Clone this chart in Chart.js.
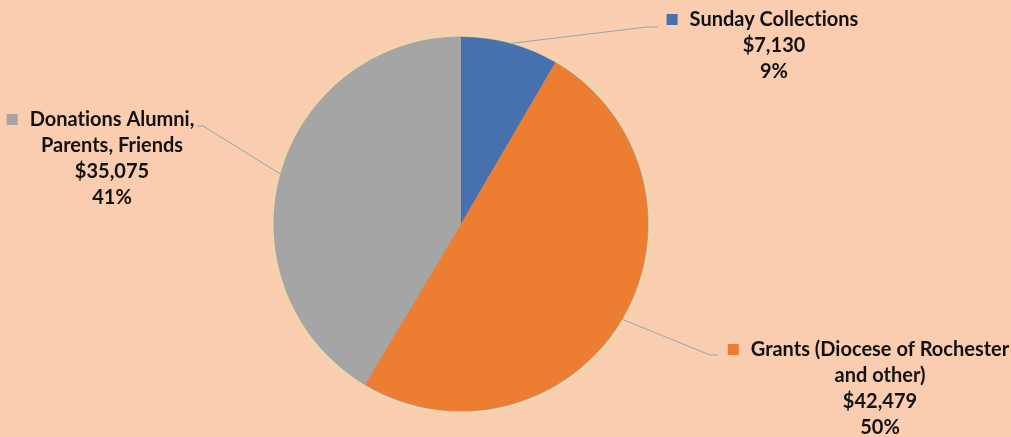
<!DOCTYPE html>
<html>
<head>
<meta charset="utf-8">
<script src="https://cdn.jsdelivr.net/npm/chart.js@4/dist/chart.umd.min.js"></script>
<style>
  html, body { margin: 0; padding: 0; background: #fbcdb0; }
  #wrap { width: 1011px; height: 437px; position: relative; }
</style>
</head>
<body>
<div id="wrap"><canvas id="pie"></canvas></div>
<script>
const categories = ['Sunday Collections', 'Grants (Diocese of Rochester and other)', 'Donations Alumni, Parents, Friends'];
const values = [7130, 42479, 35075];
const percentLabels = ['9%', '50%', '41%'];
const colors = ['#4670ae', '#ed7d31', '#a5a5a5'];

// how each label is broken into lines, as shown in the picture
const labelLines = [
  ['Sunday Collections'],
  ['Grants (Diocese of Rochester', 'and other)'],
  ['Donations Alumni,', 'Parents, Friends']
];

// label placement: cx = centre of text lines, y = first line middle,
// elbow/end = leader line end
const labelPos = [
  { cx: 774, y: 20, elbow: [647, 27], end: [658, 27] },
  { cx: 880, y: 350, elbow: [710, 355], end: [718, 355] },
  { cx: 112, y: 120, elbow: [203, 126], end: [197, 126] }
];

const FONT = 'bold 20px Lato, "Open Sans", sans-serif';
const LINE_H = 25.8;

function money(v) {
  return '$' + v.toLocaleString('en-US');
}

// keep "ti" from turning into a ligature in Lato
function noLig(t) {
  return t.replace(/ti/g, 't\u200Ci').replace(/fi/g, 'f\u200Ci');
}

const glowPlugin = {
  id: 'glow',
  beforeDatasetsDraw(chart) {
    const arc = chart.getDatasetMeta(0).data[0];
    if (!arc) return;
    const { x, y, outerRadius } = arc.getProps(['x', 'y', 'outerRadius'], true);
    const ctx = chart.ctx;
    ctx.save();
    ctx.shadowColor = 'rgba(230, 222, 170, 0.95)';
    ctx.shadowBlur = 9;
    ctx.fillStyle = '#a5a5a5';
    ctx.beginPath();
    ctx.arc(x, y, outerRadius + 0.5, 0, Math.PI * 2);
    ctx.fill();
    ctx.restore();
  }
};

const labelPlugin = {
  id: 'sliceLabels',
  afterDatasetsDraw(chart) {
    const ctx = chart.ctx;
    const meta = chart.getDatasetMeta(0);
    meta.data.forEach((arc, i) => {
      const p = arc.getProps(['x', 'y', 'startAngle', 'endAngle', 'outerRadius'], true);
      const mid = (p.startAngle + p.endAngle) / 2;
      const sx = p.x + Math.cos(mid) * p.outerRadius;
      const sy = p.y + Math.sin(mid) * p.outerRadius;
      const pos = labelPos[i];

      // leader line
      ctx.save();
      ctx.strokeStyle = '#8ea7ad';
      ctx.lineWidth = 1;
      ctx.beginPath();
      ctx.moveTo(sx, sy);
      ctx.lineTo(pos.elbow[0], pos.elbow[1]);
      ctx.lineTo(pos.end[0], pos.end[1]);
      ctx.stroke();

      // text lines, centred, with the legend key before the first one
      ctx.font = FONT;
      ctx.textBaseline = 'middle';
      ctx.textAlign = 'center';
      const lines = labelLines[i].concat([money(values[i]), percentLabels[i]]);
      lines.forEach((t, k) => {
        const ly = pos.y + k * LINE_H;
        const txt = noLig(t);
        ctx.fillStyle = '#111111';
        ctx.fillText(txt, pos.cx, ly);
        if (k === 0) {
          const w = ctx.measureText(txt).width;
          ctx.fillStyle = colors[i];
          ctx.fillRect(pos.cx - w / 2 - 23, ly - 6, 11, 11);
        }
      });
      ctx.restore();
    });
  }
};

new Chart(document.getElementById('pie'), {
  type: 'pie',
  data: {
    labels: categories,
    datasets: [{
      data: values,
      backgroundColor: colors,
      borderWidth: 0
    }]
  },
  options: {
    responsive: true,
    maintainAspectRatio: false,
    animation: false,
    layout: { padding: { left: 274, right: 363, top: 37, bottom: 26 } },
    plugins: {
      legend: { display: false },
      tooltip: { enabled: false }
    }
  },
  plugins: [glowPlugin, labelPlugin]
});
</script>
</body>
</html>
